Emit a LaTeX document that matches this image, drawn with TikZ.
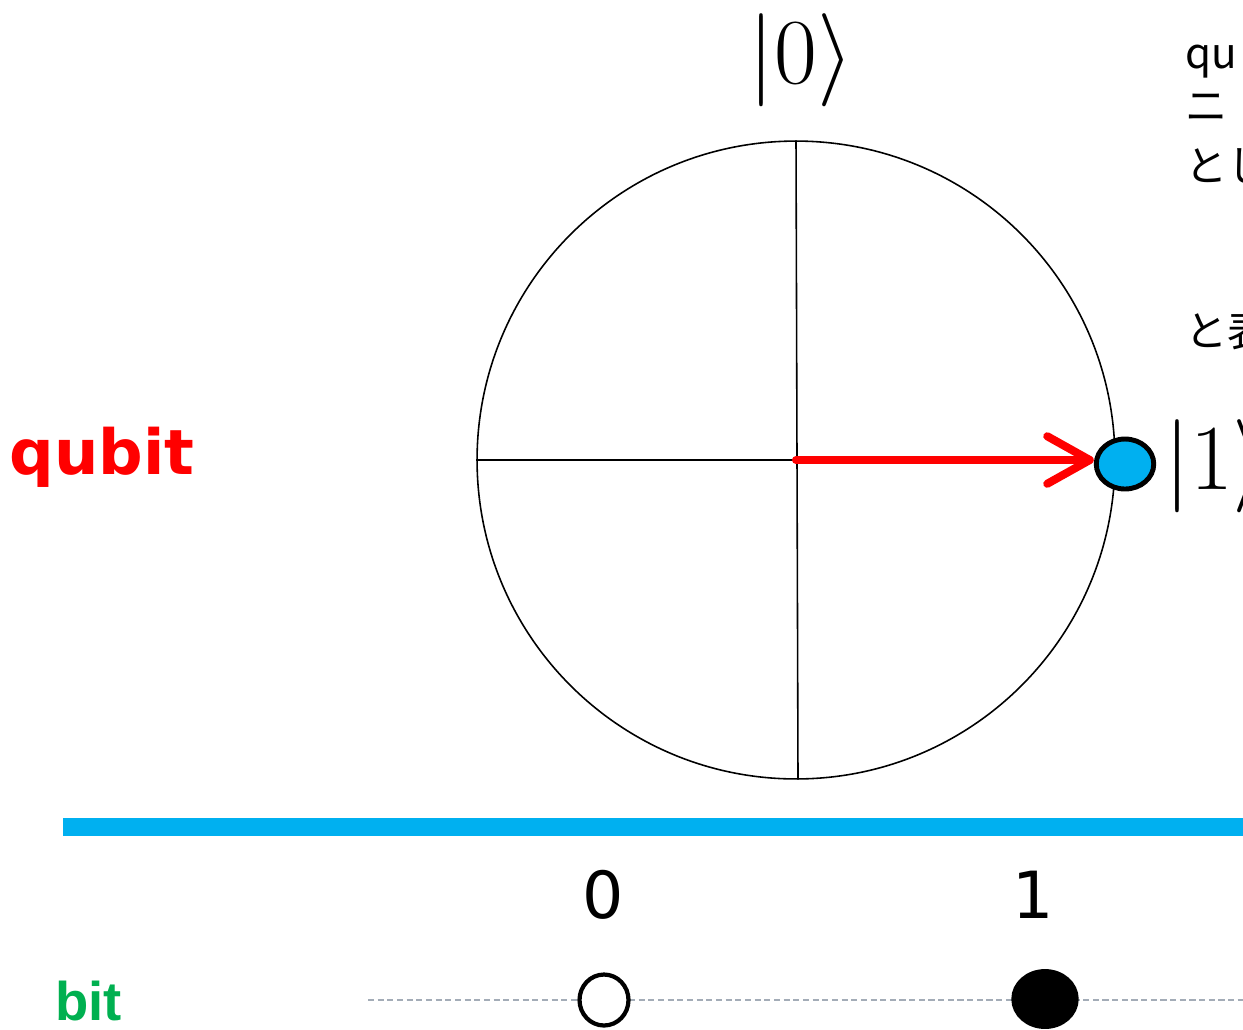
\RequirePackage{fix-cm}
\documentclass[tikz,border=0pt]{standalone}
\usepackage{fontspec}
\usepackage{tikz}
\usetikzlibrary{arrows.meta,positioning,shapes.geometric}
\newfontfamily\dejavu{DejaVu Sans}
\newfontfamily\libsans{Liberation Sans}
\newfontfamily\jpfont{Noto Sans CJK JP}
\definecolor{qred}{HTML}{FF0000}
\definecolor{qblue}{HTML}{00B0F0}
\definecolor{bgreen}{HTML}{00B050}
\definecolor{dashgray}{HTML}{A3ACB7}

\begin{document}
\begin{tikzpicture}[
  x=0.02cm, y=-0.02cm,
  bloch/.style={
    circle,
    draw=black,
    line width=0.9pt,
    minimum size=12.76cm,
    inner sep=0pt
  },
  axis/.style={draw=black, line width=0.9pt},
  state/.style={
    ellipse,
    draw=black,
    line width=2.8pt,
    inner sep=0pt
  },
  ket/.style={font=\fontsize{53}{60}\selectfont, inner sep=0pt},
  vec/.style={draw=qred, line width=4.6pt, line cap=round,
    -{Straight Barb[length=8.5mm,width=9.5mm,round]}},
  jptext/.style={anchor=base west, inner sep=0pt,
    font=\jpfont\fontsize{24}{28}\selectfont}
]
\useasboundingbox (0,0) rectangle (1243,1029);

% bloch circle
\node[bloch] (sphere) at (796,460) {};
\draw[axis] (sphere.north) -- ([xshift=0.04cm]sphere.south);
\draw[axis] (sphere.west) -- (sphere.center);

\node[state, fill=qblue, minimum width=1.15cm, minimum height=1.0cm] (one) at (1125,464) {};
\draw[vec] (sphere.center) -- (sphere.center -| one.west);

\node[ket] (ket0) at (801,60) {$\bigl|0\bigr\rangle$};
\node[ket, anchor=west] (ket1) at (1164,466) {$\bigl|1\bigr\rangle$};

\node[text=qred, font=\dejavu\bfseries\fontsize{35.5}{40}\selectfont, anchor=base west, inner sep=0pt]
  (qubit) at (9,474) {qubit};

% text at the right
\node[jptext] (t1) at (1185,68) {qu};
\node[jptext] (t2) at (1185,121) {ニ};
\node[jptext] (t3) at (1185,181) {とし};
\node[jptext] (t4) at (1185,346) {と表};

% classical bit
\fill[qblue] (63,818) rectangle (1243,836);

\coordinate (dashL) at (368,1000);
\coordinate (dashR) at (1243,1000);
\draw[dashgray, line width=0.8pt, dash pattern=on 3.5pt off 2pt] (dashL) -- (dashR);

\node[state, fill=white, line width=2.4pt, minimum width=0.98cm, minimum height=1.02cm] (bit0) at (604,1000) {};
\node[state, fill=black, minimum width=1.25cm, minimum height=1.1cm] (bit1) at (1045,999) {};

\node[font=\dejavu\fontsize{37}{44}\selectfont, inner sep=0pt] (lab0) at (603,895) {0};
\node[font=\dejavu\fontsize{37}{44}\selectfont, inner sep=0pt] (lab1) at (1033,895) {1};

\node[text=bgreen, font=\libsans\bfseries\fontsize{31}{36}\selectfont, anchor=base west, inner sep=0pt]
  (bit) at (55,1020) {bit};
\end{tikzpicture}
\end{document}
